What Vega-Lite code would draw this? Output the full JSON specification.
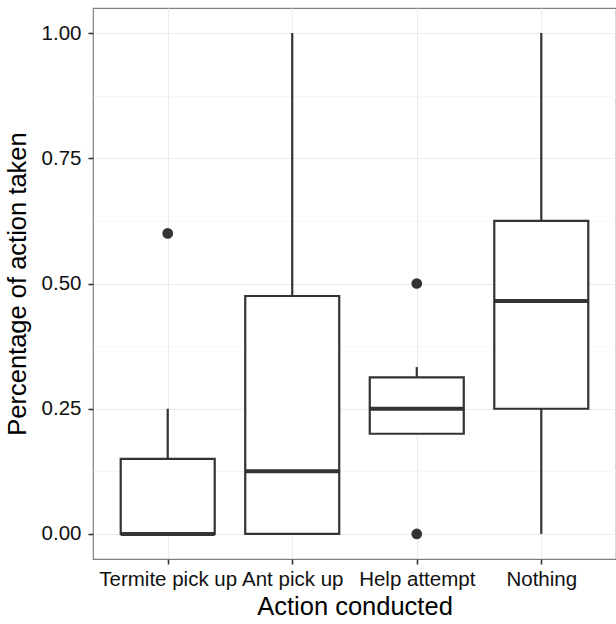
{
  "$schema": "https://vega.github.io/schema/vega-lite/v6.json",
  "width": 523,
  "height": 551,
  "autosize": {"type": "none"},
  "padding": {"left": 93, "top": 8, "right": 0, "bottom": 65},
  "background": "white",
  "config": {
    "font": "Liberation Sans",
    "view": {"stroke": "#7f7f7f", "strokeWidth": 1.2},
    "axis": {
      "domain": false,
      "labelFont": "Liberation Sans",
      "titleFont": "Liberation Sans",
      "labelColor": "#111111",
      "titleColor": "#000000",
      "titleFontWeight": "normal",
      "gridColor": "#ebebeb",
      "gridWidth": 1
    }
  },
  "datasets": {
    "boxes": [
      {"action": "Termite pick up", "lower": 0, "q1": 0, "median": 0, "q3": 0.15, "upper": 0.25},
      {"action": "Ant pick up", "lower": 0, "q1": 0, "median": 0.125, "q3": 0.475, "upper": 1.0},
      {"action": "Help attempt", "lower": 0.2, "q1": 0.2, "median": 0.25, "q3": 0.3125, "upper": 0.333},
      {"action": "Nothing", "lower": 0, "q1": 0.25, "median": 0.465, "q3": 0.625, "upper": 1.0}
    ],
    "outliers": [
      {"action": "Termite pick up", "value": 0.6},
      {"action": "Help attempt", "value": 0.5},
      {"action": "Help attempt", "value": 0}
    ]
  },
  "layer": [
    {
      "data": {"name": "boxes"},
      "mark": {"type": "rule", "color": "#333333", "strokeWidth": 2.2},
      "encoding": {
        "x": {
          "field": "action", "type": "nominal",
          "scale": {"type": "point", "padding": 0.6, "domain": ["Termite pick up", "Ant pick up", "Help attempt", "Nothing"]},
          "axis": {"title": "Action conducted", "orient": "bottom", "labelAngle": 0, "labelFontSize": 20.5, "titleFontSize": 25.5, "labelPadding": 5, "titlePadding": 5, "grid": true, "ticks": true, "tickColor": "#333333", "tickSize": 5, "tickWidth": 1.6}
        },
        "y": {
          "field": "lower", "type": "quantitative",
          "title": "Percentage of action taken",
          "scale": {"domain": [-0.05, 1.05], "nice": false, "zero": false},
          "axis": {
            "title": "Percentage of action taken",
            "values": [0, 0.125, 0.25, 0.375, 0.5, 0.625, 0.75, 0.875, 1],
            "labelExpr": "datum.value % 0.25 === 0 ? format(datum.value, '.2f') : ''",
            "gridColor": {"condition": {"test": "datum.value % 0.25 === 0", "value": "#ebebeb"}, "value": "#f6f6f6"},
            "tickColor": {"condition": {"test": "datum.value % 0.25 === 0", "value": "#333333"}, "value": "rgba(0,0,0,0)"},
            "tickSize": 5,
            "tickWidth": 1.6,
            "labelFontSize": 20.5,
            "titleFontSize": 25.5,
            "labelPadding": 7,
            "titlePadding": 11
          }
        },
        "y2": {"field": "upper"}
      }
    },
    {
      "data": {"name": "boxes"},
      "mark": {"type": "bar", "fill": "white", "stroke": "#333333", "strokeWidth": 2.2, "size": 94, "opacity": 1},
      "encoding": {
        "x": {"field": "action", "type": "nominal"},
        "y": {"field": "q1", "type": "quantitative", "title": "Percentage of action taken"},
        "y2": {"field": "q3"}
      }
    },
    {
      "data": {"name": "boxes"},
      "mark": {"type": "tick", "color": "#333333", "thickness": 4, "size": 94, "opacity": 1},
      "encoding": {
        "x": {"field": "action", "type": "nominal"},
        "y": {"field": "median", "type": "quantitative", "title": "Percentage of action taken"}
      }
    },
    {
      "data": {"name": "outliers"},
      "mark": {"type": "circle", "color": "#333333", "size": 115, "opacity": 1},
      "encoding": {
        "x": {"field": "action", "type": "nominal"},
        "y": {"field": "value", "type": "quantitative", "title": "Percentage of action taken"}
      }
    }
  ]
}
